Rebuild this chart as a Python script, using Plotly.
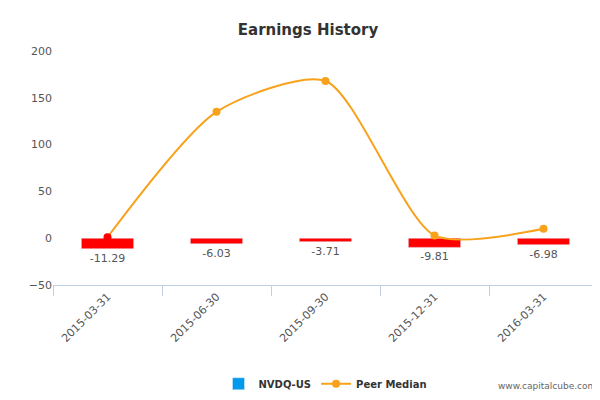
import plotly.graph_objects as go

quarters = ['2015-03-31', '2015-06-30', '2015-09-30', '2015-12-31', '2016-03-31']
nvdq = [-11.29, -6.03, -3.71, -9.81, -6.98]
peer_median = [1, 135, 168, 3, 10]

fig = go.Figure()
fig.add_trace(go.Bar(x=quarters, y=nvdq, marker_color='#ff0000', width=0.48,
                     text=[f'{v:.2f}' for v in nvdq], textposition='outside',
                     textfont=dict(size=11, color='#555'), cliponaxis=False,
                     showlegend=False))
# legend entries only
fig.add_trace(go.Bar(x=[quarters[0]], y=[None], marker_color='#0099ee', name='<b>NVDQ-US</b>'))
fig.add_trace(go.Scatter(x=quarters, y=peer_median, mode='lines+markers', showlegend=False,
                         line=dict(color='#f8a21b', width=2, shape='spline', smoothing=0.7),
                         marker=dict(size=8, color=['#ff0000'] + ['#f8a21b'] * 4)))
fig.add_trace(go.Scatter(x=[quarters[0]], y=[None], mode='lines+markers', name='<b>Peer Median</b>',
                         line=dict(color='#f8a21b', width=2), marker=dict(size=8, color='#f8a21b')))

fig.update_layout(
    width=600, height=400, plot_bgcolor='white', paper_bgcolor='white',
    margin=dict(l=45, r=10, t=43, b=113),
    title=dict(text='<b>Earnings History</b>', x=0.5, y=0.96, font=dict(size=15, color='#333')),
    font=dict(family='DejaVu Sans', size=11, color='#555'),
    barmode='overlay',
    legend=dict(orientation='h', x=0.5, xanchor='center', y=-0.36, yanchor='top',
                font=dict(size=10, color='#333')),
    xaxis=dict(type='category', tickangle=-45, showline=True, linecolor='#c0d0e0', ticks='outside',
               tickcolor='#c0d0e0', ticklen=10, tickson='boundaries', showgrid=False),
    yaxis=dict(range=[-50, 200], dtick=50, showgrid=False, zeroline=False),
)
fig.add_annotation(text='www.capitalcube.com', xref='paper', yref='paper', x=1.0, y=-0.4,
                   xanchor='right', yanchor='top', showarrow=False,
                   font=dict(size=9, color='#666'))
fig.write_html('out.html')
